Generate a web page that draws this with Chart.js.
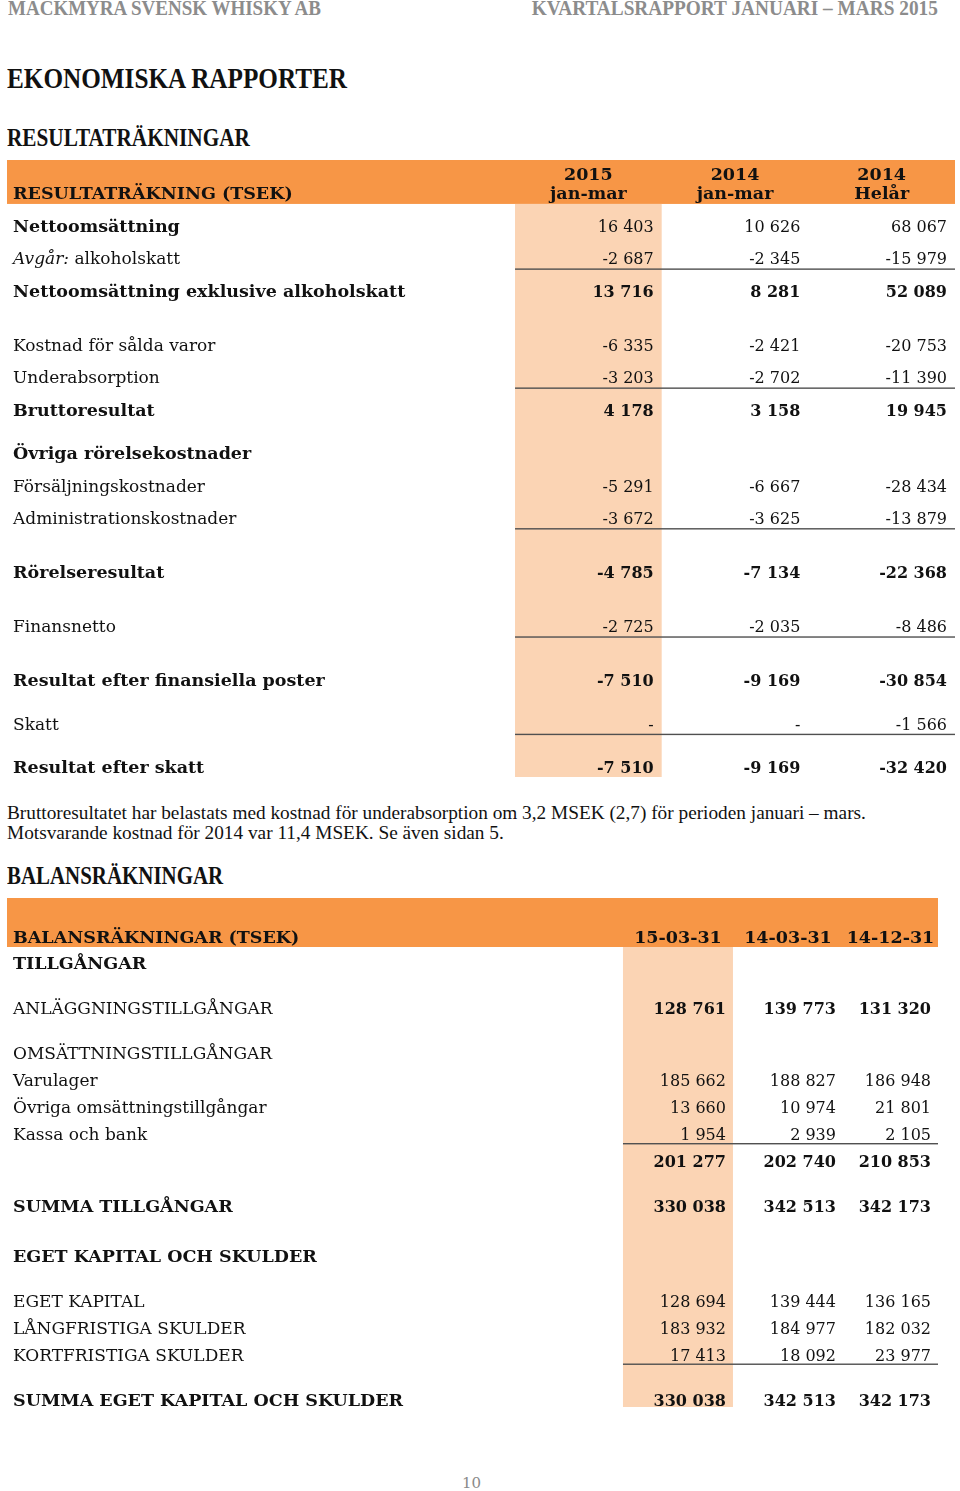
<!DOCTYPE html>
<html lang="sv">
<head>
<meta charset="UTF-8">
<title>Ekonomiska rapporter</title>
<script src="https://cdn.jsdelivr.net/npm/chart.js"></script>
<style>
  body { margin: 0; background: #fff; }
  .page { position: relative; width: 960px; height: 1491px; overflow: hidden; font-family: 'Liberation Serif', serif; color: #111; }
  .t { position: absolute; white-space: nowrap; line-height: 1; }
  .head { font-weight: bold; color: #8c8c8c; font-size: 20px; top: -2px; }
  .h1 { font-weight: bold; font-size: 30px; left: 7px; top: 63px; transform: scaleX(0.84); transform-origin: left top; }
  .h2 { font-weight: bold; font-size: 25px; left: 7px; transform-origin: left top; }
  .note { left: 7px; top: 803px; font-size: 19.3px; line-height: 20px; }
  .pnum { font-family: 'DejaVu Serif', serif; font-size: 15px; color: #8a8a8a; left: 462px; top: 1476px; }
  canvas { position: absolute; left: 0; }
</style>
</head>
<body>
<div class="page">
  <div class="t head" style="left:8px; transform:scaleX(0.95); transform-origin:left top;">MACKMYRA SVENSK WHISKY AB</div>
  <div class="t head" style="right:22px; transform:scaleX(0.965); transform-origin:right top;">KVARTALSRAPPORT JANUARI – MARS 2015</div>
  <div class="t h1">EKONOMISKA RAPPORTER</div>
  <div class="t h2" style="top:125px; transform:scaleX(0.85);">RESULTATRÄKNINGAR</div>

  <canvas id="result" width="960" height="630" style="top:155px; width:960px; height:630px;"></canvas>

  <div class="t note">Bruttoresultatet har belastats med kostnad för underabsorption om 3,2 MSEK (2,7) för perioden januari – mars.<br>Motsvarande kostnad för 2014 var 11,4 MSEK. Se även sidan 5.</div>
  <div class="t h2" style="top:863px; font-size:25.5px; transform:scaleX(0.82);">BALANSRÄKNINGAR</div>

  <canvas id="balans" width="960" height="530" style="top:890px; width:960px; height:530px;"></canvas>

  <div class="t pnum">10</div>
</div>

<script>
  // Resultaträkning (TSEK)
  const resultTitle = 'RESULTATRÄKNING (TSEK)';
  const resultHeaders = [['2015', 'jan-mar'], ['2014', 'jan-mar'], ['2014', 'Helår']];
  const resultRows = [
    'Nettoomsättning', 'Avgår: alkoholskatt', 'Nettoomsättning exklusive alkoholskatt',
    'Kostnad för sålda varor', 'Underabsorption', 'Bruttoresultat',
    'Övriga rörelsekostnader', 'Försäljningskostnader', 'Administrationskostnader',
    'Rörelseresultat', 'Finansnetto', 'Resultat efter finansiella poster', 'Skatt', 'Resultat efter skatt'
  ];
  const result2015 = [16403, -2687, 13716, -6335, -3203, 4178, null, -5291, -3672, -4785, -2725, -7510, 0, -7510];
  const result2014 = [10626, -2345, 8281, -2421, -2702, 3158, null, -6667, -3625, -7134, -2035, -9169, 0, -9169];
  const resultHelar = [68067, -15979, 52089, -20753, -11390, 19945, null, -28434, -13879, -22368, -8486, -30854, -1566, -32420];

  // Balansräkningar (TSEK)
  const balansTitle = 'BALANSRÄKNINGAR (TSEK)';
  const balansHeaders = [['15-03-31'], ['14-03-31'], ['14-12-31']];
  const balansRows = [
    'TILLGÅNGAR', 'ANLÄGGNINGSTILLGÅNGAR', 'OMSÄTTNINGSTILLGÅNGAR', 'Varulager',
    'Övriga omsättningstillgångar', 'Kassa och bank', '', 'SUMMA TILLGÅNGAR',
    'EGET KAPITAL OCH SKULDER', 'EGET KAPITAL', 'LÅNGFRISTIGA SKULDER', 'KORTFRISTIGA SKULDER',
    'SUMMA EGET KAPITAL OCH SKULDER'
  ];
  const balans150331 = [null, 128761, null, 185662, 13660, 1954, 201277, 330038, null, 128694, 183932, 17413, 330038];
  const balans140331 = [null, 139773, null, 188827, 10974, 2939, 202740, 342513, null, 139444, 184977, 18092, 342513];
  const balans141231 = [null, 131320, null, 186948, 21801, 2105, 210853, 342173, null, 136165, 182032, 23977, 342173];

  // layout and styling
  const ORANGE = '#F79646';
  const PEACH = '#FBD4B4';
  const RULE = '#505050';
  const INK = '#111';
  const FONT = '"DejaVu Serif", Georgia, serif';

  const cumul = gaps => gaps.reduce((acc, g) => { acc.push((acc.length ? acc[acc.length - 1] : 0) + g); return acc; }, []);

  const fmt = v => {
    if (v === 0) return '-';
    const s = Math.abs(v).toString().replace(/\B(?=(\d{3})+(?!\d))/g, ' ');
    return (v < 0 ? '-' : '') + s;
  };

  function makeTable(id, t) {
    const slots = cumul(t.rowGaps);
    const datasets = t.columns.map((vals, j) => ({
      label: t.headers[j].join(' '),
      data: vals.map((v, i) => ({ x: t.colEdges[j + 1], y: slots[i] })),
      pointRadius: 0,
      showLine: false
    }));

    const tablePlugin = {
      id: 'table_' + id,
      beforeDatasetsDraw(chart) {
        const { ctx } = chart;
        const xs = chart.scales.x, ys = chart.scales.y;
        const left = xs.getPixelForValue(xs.min), right = xs.getPixelForValue(xs.max);
        const top = ys.getPixelForValue(ys.min), bottom = ys.getPixelForValue(ys.max);
        const bandBottom = ys.getPixelForValue(t.bandBottom);
        ctx.save();
        ctx.fillStyle = ORANGE;
        ctx.fillRect(left, top, right - left, bandBottom - top);
        // highlighted first column
        const c0 = xs.getPixelForValue(t.colEdges[0]), c1 = xs.getPixelForValue(t.colEdges[1]);
        ctx.fillStyle = PEACH;
        ctx.fillRect(c0, bandBottom, c1 - c0, bottom - bandBottom);
        // underlines below rows
        ctx.fillStyle = RULE;
        const r0 = xs.getPixelForValue(t.colEdges[0]);
        const r1 = xs.getPixelForValue(t.colEdges[t.colEdges.length - 1]);
        t.ruleAfter.forEach(i => {
          const y = ys.getPixelForValue(slots[i]) + t.ruleOffset;
          ctx.fillRect(r0, y, r1 - r0, 1.4);
        });
        ctx.restore();
      },
      afterDatasetsDraw(chart) {
        const { ctx } = chart;
        const xs = chart.scales.x, ys = chart.scales.y;
        const labelX = xs.getPixelForValue(xs.min) + 6;
        ctx.save();
        ctx.fillStyle = INK;
        ctx.textBaseline = 'alphabetic';

        // header
        ctx.font = `bold ${t.boldSize}px ${FONT}`;
        ctx.textAlign = 'left';
        ctx.fillText(t.title, labelX, ys.getPixelForValue(t.titleY));
        ctx.textAlign = 'center';
        t.headers.forEach((lines, j) => {
          const cx = (xs.getPixelForValue(t.colEdges[j]) + xs.getPixelForValue(t.colEdges[j + 1])) / 2;
          lines.forEach((line, k) => ctx.fillText(line, cx, ys.getPixelForValue(t.headerY[k + t.headerY.length - lines.length])));
        });

        // row labels
        ctx.textAlign = 'left';
        t.rows.forEach((label, i) => {
          const y = ys.getPixelForValue(slots[i]);
          const bold = t.boldLabels.includes(i);
          const prefix = t.italicPrefix[i];
          let x = labelX;
          let rest = label;
          if (prefix && label.startsWith(prefix)) {
            ctx.font = `italic ${t.labelSize}px ${FONT}`;
            ctx.fillText(prefix, x, y);
            x += ctx.measureText(prefix).width;
            rest = label.slice(prefix.length);
          }
          ctx.font = bold ? `bold ${t.boldSize}px ${FONT}` : `${t.labelSize}px ${FONT}`;
          ctx.fillText(rest, x, y);
        });

        // values, placed at each point of the column datasets
        ctx.textAlign = 'right';
        t.columns.forEach((vals, j) => {
          const meta = chart.getDatasetMeta(j);
          vals.forEach((v, i) => {
            if (v === null) return;
            const el = meta.data[i];
            ctx.font = `${t.boldValues.includes(i) ? 'bold ' : ''}${t.valueSize}px ${FONT}`;
            ctx.fillText(fmt(v), el.x - t.inset, el.y);
          });
        });
        ctx.restore();
      }
    };

    return new Chart(document.getElementById(id), {
      type: 'scatter',
      data: { datasets },
      options: {
        responsive: false,
        animation: false,
        events: [],
        layout: { padding: t.padding },
        plugins: { legend: { display: false }, tooltip: { enabled: false } },
        scales: {
          x: { type: 'linear', display: false, min: t.xMin, max: t.colEdges[t.colEdges.length - 1] },
          y: { type: 'linear', display: false, reverse: true, min: t.yMin, max: t.yMax }
        }
      },
      plugins: [tablePlugin]
    });
  }

  makeTable('result', {
    title: resultTitle,
    headers: resultHeaders,
    rows: resultRows,
    columns: [result2015, result2014, resultHelar],
    rowGaps: [0, 3, 3, 5, 3, 3, 4, 3, 3, 5, 5, 5, 4, 4],
    boldLabels: [0, 2, 5, 6, 9, 11, 13],
    boldValues: [2, 5, 9, 11, 13],
    italicPrefix: { 1: 'Avgår:' },
    ruleAfter: [1, 4, 8, 10, 12],
    ruleOffset: 4,
    colEdges: [0, 1, 2, 3],
    xMin: -3.464,
    yMin: -6.65, yMax: 50.37,
    bandBottom: -2.59,
    titleY: -3.05,
    headerY: [-4.81, -3.05],
    padding: { left: 7, right: 5, top: 5, bottom: 8 },
    labelSize: 17, boldSize: 17.5, valueSize: 16, inset: 8
  });

  makeTable('balans', {
    title: balansTitle,
    headers: balansHeaders,
    rows: balansRows,
    columns: [balans150331, balans140331, balans141231],
    rowGaps: [0, 10, 10, 6, 6, 6, 6, 10, 11, 10, 6, 6, 10],
    boldLabels: [0, 7, 8, 12],
    boldValues: [1, 6, 7, 12],
    italicPrefix: {},
    ruleAfter: [5, 11],
    ruleOffset: 3,
    colEdges: [0, 1, 2, 2.864],
    xMin: -5.6,
    yMin: -15.78, yMax: 97.33,
    bandBottom: -4.89,
    titleY: -5.78,
    headerY: [-5.78],
    padding: { left: 7, right: 22, top: 8, bottom: 13 },
    labelSize: 17, boldSize: 17.5, valueSize: 16, inset: 7
  });
</script>
</body>
</html>
